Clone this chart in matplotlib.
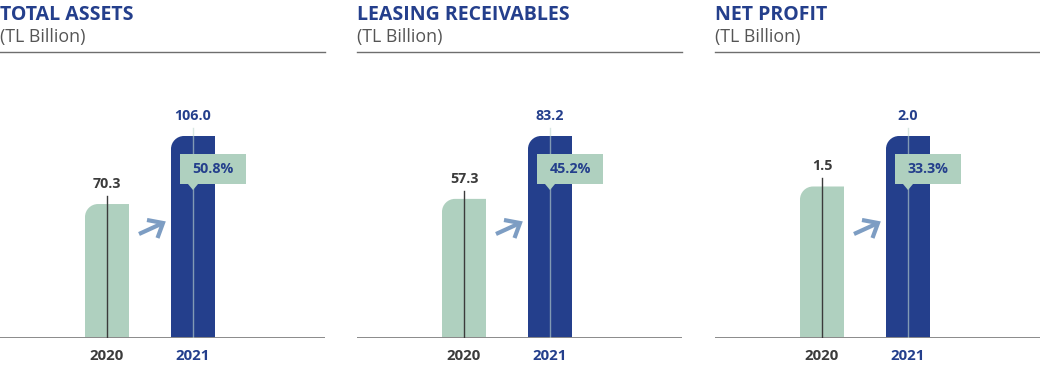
import numpy as np
import matplotlib.pyplot as plt
from matplotlib.path import Path
from matplotlib.patches import PathPatch, Polygon

# --- Daten ---
titles = ["TOTAL ASSETS", "LEASING RECEIVABLES", "NET PROFIT"]
unit = "(TL Billion)"
years = ["2020", "2021"]
values_2020 = [70.3, 57.3, 1.5]
values_2021 = [106.0, 83.2, 2.0]
growth = ["50.8%", "45.2%", "33.3%"]

# --- Farben ---
GREEN = "#afd0bf"
BLUE = "#243f8c"
ARROW = "#7d9dc3"
DARK = "#3b3b3b"
GREY = "#8a8a8a"

plt.rcParams['font.family'] = ['Open Sans', 'DejaVu Sans']

W, H = 1040, 372
fig = plt.figure(figsize=(W / 100, H / 100), dpi=100)

panel_left = [0, 357, 715]
panel_w = 325
base_px = 338      # Grundlinie (von oben)
top_px = 52        # Linie unter dem Titel
max_px = 202       # Hoehe des groessten Balkens in Pixel
x_px = 86          # Pixel pro x-Einheit
x0_px = 107        # Position des ersten Balkens im Panel
bar_w = 44 / x_px
r_px = 13


def rounded_bar(ax, x, h, w, rx, ry, color):
    x0, x1 = x - w / 2, x + w / 2
    k = 0.5523
    verts = [(x0, 0), (x0, h - ry),
             (x0, h - ry + k * ry), (x0 + rx - k * rx, h), (x0 + rx, h),
             (x1, h), (x1, 0), (x0, 0)]
    codes = [Path.MOVETO, Path.LINETO, Path.CURVE4, Path.CURVE4, Path.CURVE4,
             Path.LINETO, Path.LINETO, Path.CLOSEPOLY]
    ax.add_patch(PathPatch(Path(verts, codes), facecolor=color, edgecolor='none', zorder=2))


for p in range(3):
    left = panel_left[p]
    ax = fig.add_axes([left / W, (H - base_px) / H, panel_w / W, (base_px - top_px) / H])
    ax.set_axis_off()
    vmax = max(values_2020[p], values_2021[p])
    ys = max_px / vmax                     # Pixel pro y-Einheit
    ax.set_ylim(0, (base_px - top_px) / ys)
    ax.set_xlim(-x0_px / x_px, (panel_w - x0_px) / x_px)
    rx, ry = r_px / x_px, r_px / ys

    # Titel und Linien
    ax.text(0, (base_px - 15) / (base_px - top_px), titles[p], transform=ax.transAxes,
            fontsize=14, fontweight='bold', color=BLUE, ha='left', va='center')
    ax.text(0, (base_px - 37) / (base_px - top_px), unit, transform=ax.transAxes,
            fontsize=12.8, color='#555555', ha='left', va='center')
    ax.plot([0, 1], [1, 1], transform=ax.transAxes, color='#6e6e6e', lw=1, clip_on=False)
    ax.axhline(0, color=GREY, lw=1.4, zorder=3)

    vals = [values_2020[p], values_2021[p]]
    cols = [GREEN, BLUE]
    lcols = [DARK, '#c0d8d0']
    lalpha = [1.0, 0.6]
    tcols = [DARK, BLUE]
    for i, v in enumerate(vals):
        rounded_bar(ax, i, v, bar_w, rx, ry, cols[i])
        ax.plot([i, i], [0, v + 8 / ys], color=lcols[i], alpha=lalpha[i], lw=1, zorder=3)
        ax.annotate(f"{v:.1f}", xy=(i, v), xytext=(0, 20), textcoords='offset pixels',
                    ha='center', va='center', fontsize=10.3, fontweight='bold', color=tcols[i])
        ax.annotate(years[i], xy=(i, 0), xytext=(0, -18), textcoords='offset pixels',
                    ha='center', va='center', fontsize=10.8, fontweight='bold', color=tcols[i],
                    annotation_clip=False)

    # Callout mit Zuwachs
    v = vals[1]
    bx0, bx1 = 1 - 13 / x_px, 1 + 53 / x_px
    by1 = v - 18 / ys
    by0 = by1 - 30 / ys
    box = [(bx0, by0), (bx0, by1), (bx1, by1), (bx1, by0),
           (1 + 5 / x_px, by0), (1, by0 - 6 / ys), (1 - 5 / x_px, by0)]
    ax.add_patch(Polygon(box, closed=True, facecolor=GREEN, edgecolor='none', zorder=4))
    ax.text((bx0 + bx1) / 2, (by0 + by1) / 2, growth[p], ha='center', va='center',
            fontsize=10.3, fontweight='bold', color=BLUE, zorder=5)

    # Pfeil zwischen den Balken
    tr = ax.get_xaxis_transform()
    fy = lambda py: (base_px - py) / (base_px - top_px)
    fx = lambda px: (px - x0_px) / x_px
    ax.plot([fx(139), fx(162)], [fy(234), fy(223.5)], color=ARROW, lw=3,
            solid_capstyle='butt', transform=tr, zorder=3)
    ax.plot([fx(147), fx(163), fx(157.5)], [fy(220), fy(223), fy(238)], color=ARROW, lw=3,
            solid_capstyle='butt', solid_joinstyle='miter', transform=tr, zorder=3)

plt.savefig("out.png", dpi=100)
